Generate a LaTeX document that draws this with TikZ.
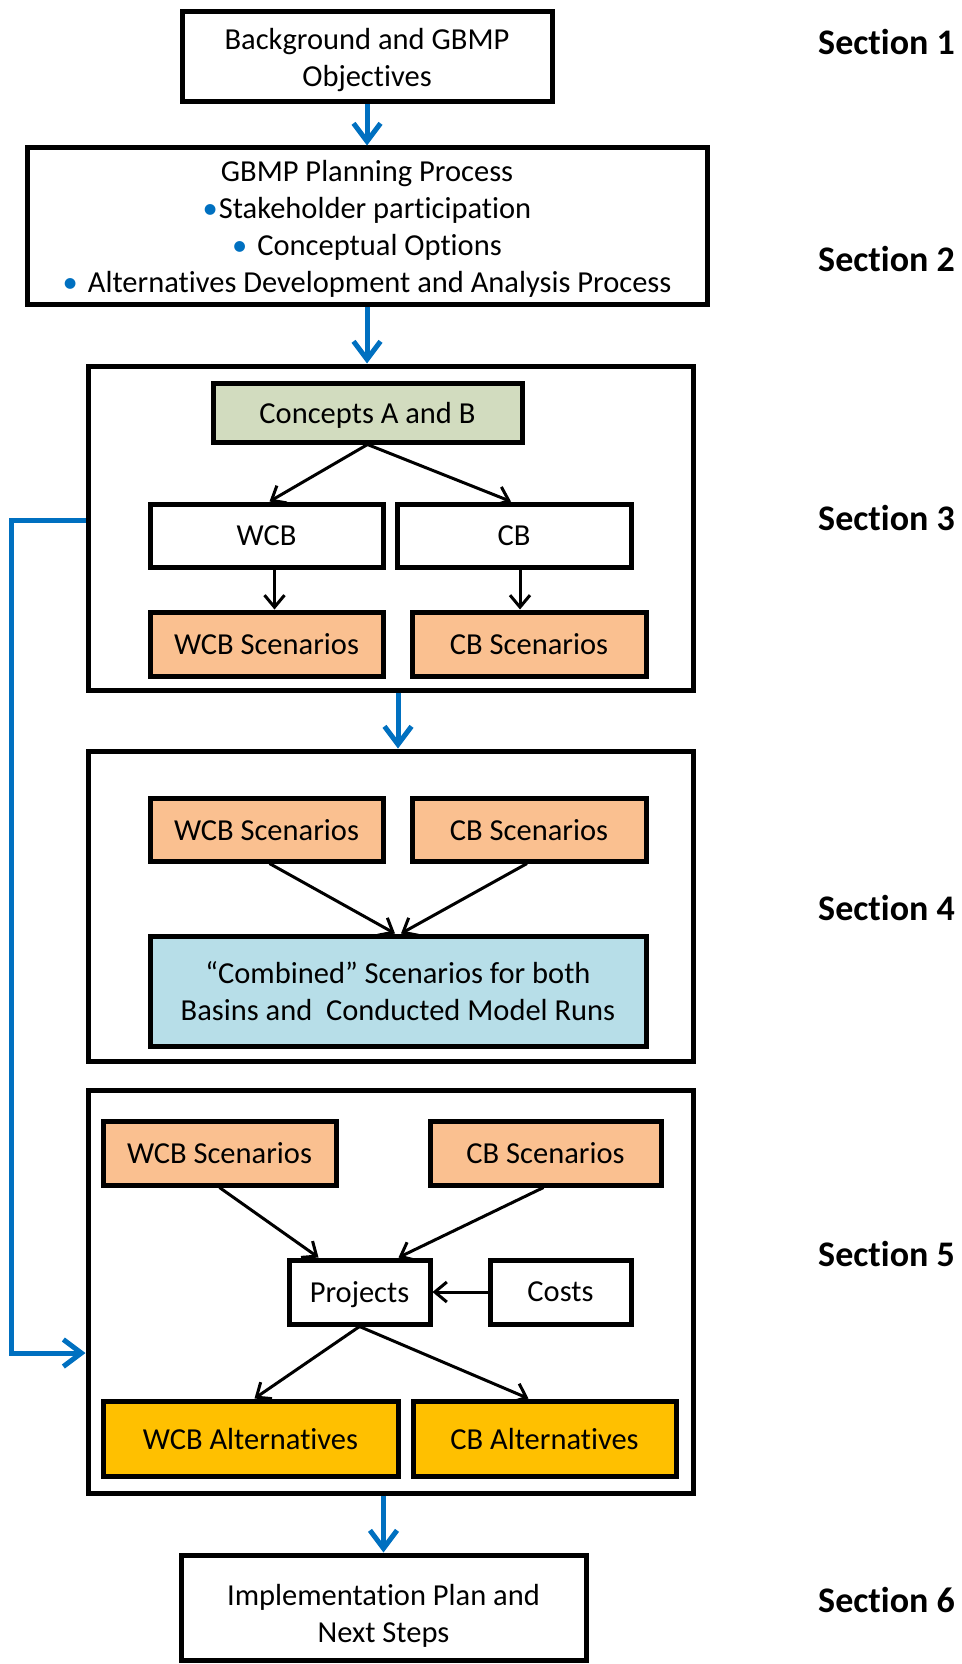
\documentclass[tikz,border=0pt]{standalone}
\usepackage{fontspec}
\setmainfont{Carlito}[Ligatures={TeX,NoCommon}]
\usetikzlibrary{arrows.meta}
\definecolor{bblue}{HTML}{0070C0}
\definecolor{scen}{HTML}{FAC090}
\definecolor{alt}{HTML}{FFC000}
\definecolor{comb}{HTML}{B7DEE8}
\definecolor{conc}{HTML}{D2DCBF}
\tikzset{
  box/.style={draw=black, line width=5pt, rectangle, inner sep=0pt, align=center,
    text depth=0pt, font=\fontsize{30.5}{37}\selectfont},
  secbox/.style={draw=black, line width=5pt, rectangle, inner sep=0pt},
  blk/.style={draw=black, line width=3pt, -{Straight Barb[length=12pt,width=20pt]}},
  blu/.style={draw=bblue, line width=5pt, -{Straight Barb[length=18pt,width=27pt]}},
  seclabel/.style={anchor=east, inner sep=0pt, font=\fontsize{36}{40}\selectfont\bfseries}
}
\newcommand{\bul}{\textcolor{bblue}{\textbullet}}
\begin{document}
\begin{tikzpicture}[x=1pt,y=-1pt]
\useasboundingbox (0,0) rectangle (961,1664);
% top boxes
\node[box, minimum width=370pt, minimum height=90pt] (b1) at (367,57) {Background and GBMP\\Objectives};
\node[box, minimum width=680pt, minimum height=156pt] (b2) at (367,226)
  {GBMP Planning Process\\ \bul\hspace{1pt}Stakeholder participation\\ \bul\hspace{10pt}Conceptual Options\\ \bul\hspace{10pt}Alternatives Development and Analysis Process};
% section 3
\node[secbox, minimum width=605pt, minimum height=324pt] (s3) at (390.5,528) {};
\node[box, fill=conc, minimum width=309pt, minimum height=59pt] (conc) at (367.5,412.5) {Concepts A and B};
\node[box, minimum width=233pt, minimum height=63pt] (wcb) at (266.5,535.5) {WCB};
\node[box, minimum width=234pt, minimum height=63pt] (cb) at (514,535.5) {CB};
\node[box, fill=scen, minimum width=233pt, minimum height=64pt] (wcbs3) at (266.5,644) {WCB Scenarios};
\node[box, fill=scen, minimum width=234pt, minimum height=64pt] (cbs3) at (529,644) {CB Scenarios};
% section 4
\node[secbox, minimum width=605pt, minimum height=310pt] (s4) at (390.5,906) {};
\node[box, fill=scen, minimum width=233pt, minimum height=63pt] (wcbs4) at (266.5,829.5) {WCB Scenarios};
\node[box, fill=scen, minimum width=234pt, minimum height=63pt] (cbs4) at (529,829.5) {CB Scenarios};
\node[box, fill=comb, minimum width=496pt, minimum height=110pt] (comb) at (398,991) {``Combined'' Scenarios for both\\Basins and\ \ Conducted Model Runs};
% section 5
\node[secbox, minimum width=605pt, minimum height=403pt] (s5) at (390.5,1291.5) {};
\node[box, fill=scen, minimum width=233pt, minimum height=64pt] (wcbs5) at (219.5,1153) {WCB Scenarios};
\node[box, fill=scen, minimum width=231pt, minimum height=64pt] (cbs5) at (545.5,1153) {CB Scenarios};
\node[box, minimum width=141pt, minimum height=64pt] (proj) at (359.5,1292) {Projects};
\node[box, minimum width=141pt, minimum height=64pt] (cost) at (560.5,1292) {Costs};
\node[box, fill=alt, minimum width=295pt, minimum height=75pt] (wcba) at (250.5,1438.5) {WCB Alternatives};
\node[box, fill=alt, minimum width=263pt, minimum height=75pt] (cba) at (544.5,1438.5) {CB Alternatives};
% section 6
\node[box, minimum width=405pt, minimum height=105pt] (b6) at (383.5,1607.5) {\rule{0pt}{32pt}Implementation Plan and\\Next Steps};
% section labels
\node[seclabel] (l1) at (955,42) {Section 1};
\node[seclabel] (l2) at (955,259) {Section 2};
\node[seclabel] (l3) at (955,518) {Section 3};
\node[seclabel] (l4) at (955,908) {Section 4};
\node[seclabel] (l5) at (955,1254) {Section 5};
\node[seclabel] (l6) at (955,1600) {Section 6};
% blue flow arrows
\draw[blu] (b1.south) -- (b2.north);
\draw[blu] (b2.south) -- (b2.south |- s3.north);
\draw[blu] (comb.north |- s3.south) -- (comb.north |- s4.north);
\draw[blu] (b6.north |- s5.south) -- (b6.north);
\coordinate (fb1) at (11,520);
\coordinate (fb2) at (11,1353);
\draw[blu] ([yshift=8pt]s3.west) -- (fb1) -- (fb2) -- (fb2 -| s5.west);
% black arrows section 3
\draw[blk] (conc.south) -- ([xshift=3pt]wcb.north);
\draw[blk] (conc.south) -- ([xshift=-3pt]cb.north);
\draw[blk] ([xshift=8pt]wcb.south) -- ([xshift=8pt]wcb.south |- wcbs3.north);
\draw[blk] ([xshift=6pt]cb.south) -- ([xshift=6pt]cb.south |- cbs3.north);
% section 4
\draw[blk] ([xshift=3pt]wcbs4.south) -- ([xshift=-3pt]comb.north);
\draw[blk] ([xshift=-2pt]cbs4.south) -- ([xshift=3pt]comb.north);
% section 5
\draw[blk] (wcbs5.south) -- ([xshift=-41pt]proj.north);
\draw[blk] ([xshift=-2pt]cbs5.south) -- ([xshift=39pt]proj.north);
\draw[blk] (cost.west) -- (proj.east);
\draw[blk] (proj.south) -- ([xshift=4pt]wcba.north);
\draw[blk] (proj.south) -- ([xshift=-16pt]cba.north);
\end{tikzpicture}
\end{document}
